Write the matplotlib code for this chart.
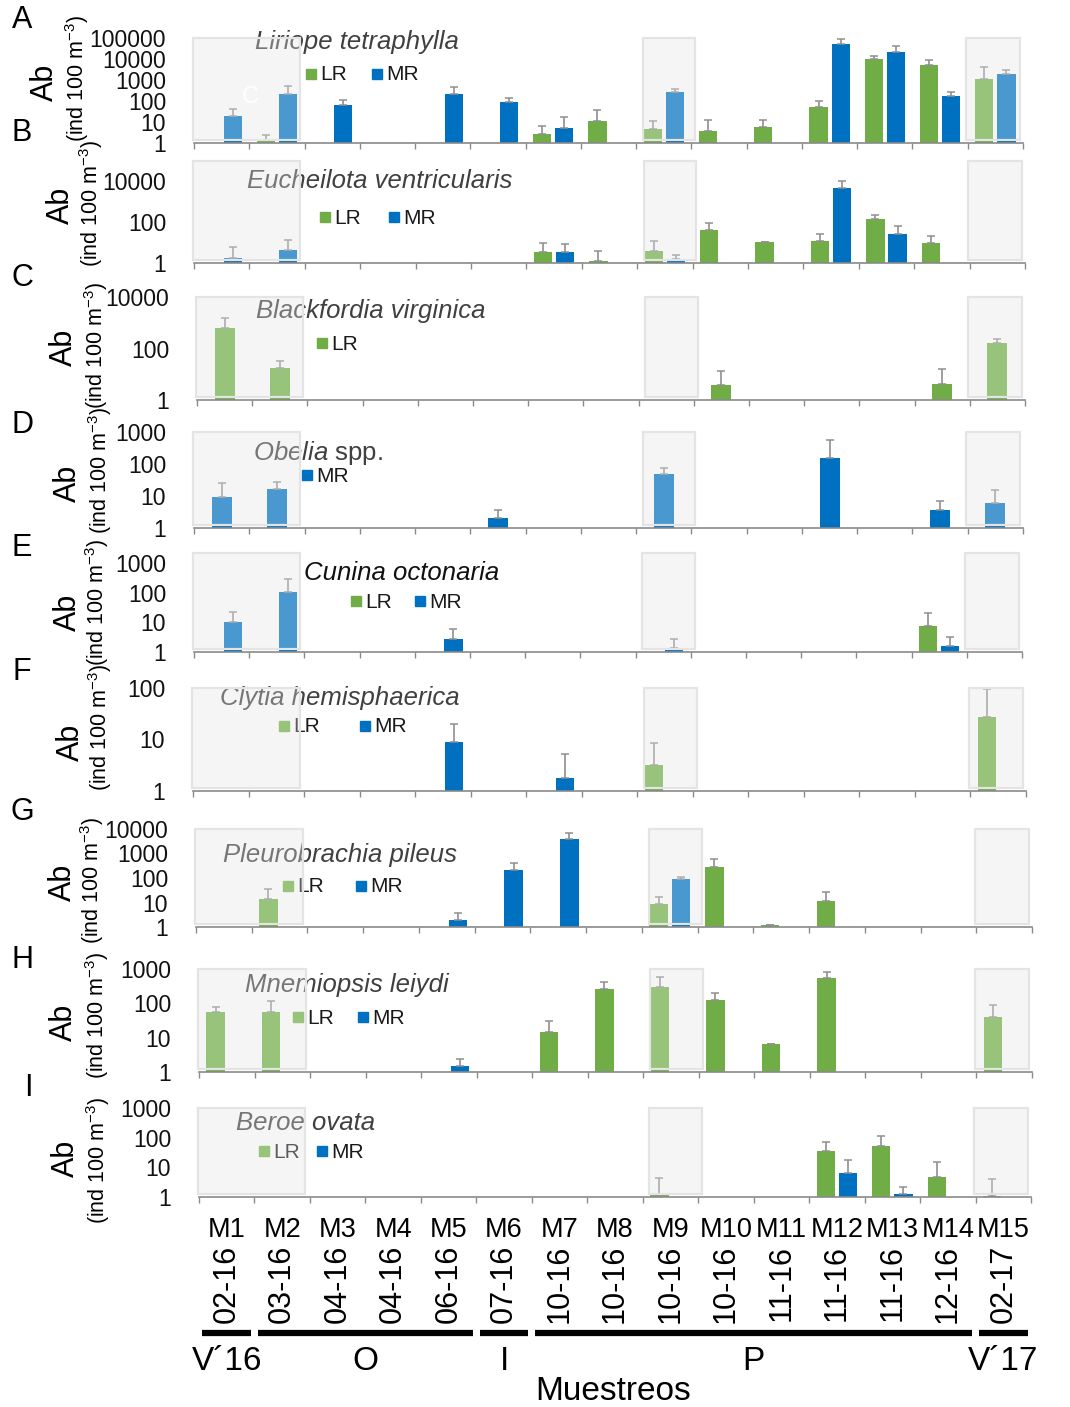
import numpy as np
import matplotlib
matplotlib.use('Agg')
import matplotlib.pyplot as plt
from matplotlib.patches import Rectangle
from matplotlib.lines import Line2D
import matplotlib.transforms as mtransforms
from matplotlib.ticker import NullLocator

plt.rcParams['font.family'] = ['Liberation Sans', 'DejaVu Sans']
plt.rcParams['mathtext.fontset'] = 'custom'
plt.rcParams['mathtext.rm'] = 'Liberation Sans'
plt.rcParams['mathtext.it'] = 'Liberation Sans:italic'

n = np.nan
# ---------------- data ----------------
samples = [f"M{i}" for i in range(1, 16)]
dates = ["02-16", "03-16", "04-16", "04-16", "06-16", "07-16", "10-16", "10-16",
         "10-16", "10-16", "11-16", "11-16", "11-16", "12-16", "02-17"]
seasons = ["V´16", "O", "I", "P", "V´17"]
season_first = [0, 1, 5, 6, 14]
season_last = [0, 4, 5, 13, 14]
shaded_first = [0, 8, 14]
shaded_last = [1, 8, 14]

liriope_LR = [n, 1.35, n, n, n, n, 2.7, 10.8, 4.5, 3.6, 5.6, 50, 10300, 5000, 1150]
liriope_LR_sd = [n, 1.0, n, n, n, n, 3.5, 25, 7, 9.4, 7.4, 50, 4100, 4000, 3050]
liriope_MR = [19, 210, 63, n, 224, 90, 5.2, n, 277, n, n, 50000, 21600, 167, 2000]
liriope_MR_sd = [24, 290, 45, n, 236, 50, 12, n, 108, n, n, 40000, 21400, 110, 1100]

eucheilota_LR = [n, n, n, n, n, n, 3.4, 1.2, 3.7, 42, 10.8, 12.5, 140, 10, n]
eucheilota_LR_sd = [n, n, n, n, n, n, 5.9, 2.8, 8.3, 51, 0.3, 13.5, 93, 11, n]
eucheilota_MR = [1.7, 4.3, n, n, n, n, 3.4, n, 1.5, n, n, 4600, 26, n, n]
eucheilota_MR_sd = [4.3, 9.7, n, n, n, n, 5.6, n, 1.1, n, n, 6400, 37, n, n]

blackfordia_LR = [650, 17, n, n, n, n, n, n, n, 3.8, n, n, n, 4.3, 160]
blackfordia_LR_sd = [930, 17, n, n, n, n, n, n, n, 9.2, n, n, n, 11.3, 74]

obelia_MR = [9.5, 16, n, n, n, 2.0, n, n, 49, n, n, 158, n, 3.7, 5.9]
obelia_MR_sd = [15.5, 11, n, n, n, 1.7, n, n, 25, n, n, 400, n, 3.3, 9]

cunina_LR = [n, n, n, n, n, n, n, n, n, n, n, n, n, 7.7, n]
cunina_LR_sd = [n, n, n, n, n, n, n, n, n, n, n, n, n, 12.3, n]
cunina_MR = [10.5, 107, n, n, 2.7, n, n, n, 1.4, n, n, n, n, 1.6, n]
cunina_MR_sd = [12.5, 173, n, n, 3.3, n, n, n, 1.3, n, n, n, n, 1.7, n]

clytia_LR = [n, n, n, n, n, n, n, n, 3.2, n, n, n, n, n, 27.5]
clytia_LR_sd = [n, n, n, n, n, n, n, n, 5.5, n, n, n, n, n, 70]
clytia_MR = [n, n, n, n, 9.0, n, 1.8, n, n, n, n, n, n, n, n]
clytia_MR_sd = [n, n, n, n, 11, n, 3.4, n, n, n, n, n, n, n, n]

pleuro_LR = [n, 14, n, n, n, n, n, n, 8.5, 275, 1.2, 12, n, n, n]
pleuro_LR_sd = [n, 23, n, n, n, n, n, n, 8.5, 325, 0, 15, n, n, n]
pleuro_MR = [n, n, n, n, 2.0, 220, 4000, n, 87, n, n, n, n, n, n]
pleuro_MR_sd = [n, n, n, n, 1.6, 180, 2700, n, 28, n, n, n, n, n, n]

mnemiopsis_LR = [56, 57, n, n, n, n, 15, 263, 295, 125, 6.4, 535, n, n, 40]
mnemiopsis_LR_sd = [24, 60, n, n, n, n, 16, 157, 295, 75, 0.2, 265, n, n, 48]
mnemiopsis_MR = [n, n, n, n, 1.46, n, n, n, n, n, n, n, n, n, n]
mnemiopsis_MR_sd = [n, n, n, n, 1.0, n, n, n, n, n, n, n, n, n, n]

beroe_LR = [n, n, n, n, n, n, n, n, 1.2, n, n, 35, 53, 4.7, 1.1]
beroe_LR_sd = [n, n, n, n, n, n, n, n, 3.1, n, n, 37, 59, 11, 2.8]
beroe_MR = [n, n, n, n, n, n, n, n, n, n, n, 6.6, 1.25, n, n]
beroe_MR_sd = [n, n, n, n, n, n, n, n, n, n, n, 11.4, 0.85, n, n]

titles = ["Liriope tetraphylla", "Eucheilota ventricularis", "Blackfordia virginica",
          "$\\mathit{Obelia}$ spp.", "Cunina octonaria", "Clytia hemisphaerica",
          "Pleurobrachia pileus", "Mnemiopsis leiydi", "Beroe ovata"]
panel_letters = ["A", "B", "C", "D", "E", "F", "G", "H", "I"]
yticks_list = [[1, 10, 100, 1000, 10000, 100000], [1, 100, 10000], [1, 100, 10000],
               [1, 10, 100, 1000], [1, 10, 100, 1000], [1, 10, 100],
               [1, 10, 100, 1000, 10000], [1, 10, 100, 1000], [1, 10, 100, 1000]]

series = [
    [("LR", liriope_LR, liriope_LR_sd), ("MR", liriope_MR, liriope_MR_sd)],
    [("LR", eucheilota_LR, eucheilota_LR_sd), ("MR", eucheilota_MR, eucheilota_MR_sd)],
    [("LR", blackfordia_LR, blackfordia_LR_sd)],
    [("MR", obelia_MR, obelia_MR_sd)],
    [("LR", cunina_LR, cunina_LR_sd), ("MR", cunina_MR, cunina_MR_sd)],
    [("LR", clytia_LR, clytia_LR_sd), ("MR", clytia_MR, clytia_MR_sd)],
    [("LR", pleuro_LR, pleuro_LR_sd), ("MR", pleuro_MR, pleuro_MR_sd)],
    [("LR", mnemiopsis_LR, mnemiopsis_LR_sd), ("MR", mnemiopsis_MR, mnemiopsis_MR_sd)],
    [("LR", beroe_LR, beroe_LR_sd), ("MR", beroe_MR, beroe_MR_sd)],
]

# ---------------- layout (pixels) ----------------
W, H = 1070, 1407
colors = {"LR": "#70AD47", "MR": "#0070C0"}
# left, right, top, bottom, ymax
axes_px = [(194, 1023, 38, 143, 1e5), (194, 1025, 161, 263, 1e5), (197, 1025, 297, 400, 1e4),
           (194, 1023, 432, 528, 1e3), (194, 1022, 553, 652, 10 ** 3.33), (193, 1026, 688, 791, 100),
           (196, 1032, 829, 927, 1e4), (199, 1032, 969, 1072, 1e3), (199, 1031, 1108, 1197, 1e3)]
title_px = [(357, 42), (380, 181), (371, 311), (318, 453), (402, 573), (340, 698),
            (340, 855), (347, 985), (306, 1123)]
title_col = ["#404040"] * 9
title_col[4] = "#111111"
legend_px = [[(311, 74), (377, 74)], [(325, 217), (394, 217)], [(322, 343)], [(307, 475)],
             [(356, 601), (420, 601)], [(284, 726), (365, 726)], [(288, 886), (361, 886)],
             [(298, 1017), (363, 1017)], [(264, 1151), (322, 1151)]]
letter_px = [(22, 20), (22, 133), (22, 278), (22, 425), (22, 548), (22, 672), (22, 812),
             (22, 960), (28, 1088)]
ab_px = [(45, 82), (61, 205), (64, 347), (68, 483), (68, 612), (71, 742), (63, 882),
         (64, 1022), (66, 1158)]
ind_px = [(77, 78), (91, 203), (96, 345), (100, 470), (97, 602), (100, 727), (92, 880),
          (97, 1015), (98, 1160)]
shade_x0 = {0: -0.52, 8: 7.62, 14: 13.47}
shade_x1 = {1: 1.42, 8: 8.57, 14: 14.45}

fig = plt.figure(figsize=(W / 100, H / 100), dpi=100)
pixT = mtransforms.Affine2D().scale(1 / W, -1 / H).translate(0, 1) + fig.transFigure

axes = []
for i in range(9):
    l, r, t, b, ymax = axes_px[i]
    ax = fig.add_axes([l / W, 1 - b / H, (r - l) / W, (b - t) / H])
    axes.append(ax)
    ax.set_yscale('log', nonpositive='clip')
    x = np.arange(len(samples))
    sers = series[i]
    if len(sers) == 2:
        offs, width = [-0.2, 0.2], 0.33
    else:
        offs, width = [0.0], 0.36
    for (name, vals, sds), off in zip(sers, offs):
        v = np.array(vals, dtype=float)
        s = np.array(sds, dtype=float)
        m = ~np.isnan(v)
        ax.bar(x[m] + off, v[m], width=width, color=colors[name], zorder=2, linewidth=0)
        ax.errorbar(x[m] + off, v[m], yerr=[np.zeros(m.sum()), np.nan_to_num(s[m])],
                    fmt='none', ecolor='#8f8f8f', elinewidth=1.2, capsize=3.2,
                    capthick=1.1, zorder=2.5)
    ax.set_xlim(-0.5, len(samples) - 0.5)
    ax.set_ylim(1, ymax)
    ax.set_yticks(yticks_list[i])
    ax.set_yticklabels([str(int(v)) for v in yticks_list[i]])
    ax.yaxis.set_minor_locator(NullLocator())
    ax.tick_params(axis='y', length=0, pad=20, labelsize=16.5, labelcolor='#111111')
    ax.set_xticks(np.arange(-0.5, len(samples), 1))
    ax.set_xticklabels([])
    ax.xaxis.set_minor_locator(NullLocator())
    ax.tick_params(axis='x', direction='out', length=4, width=1, color='#8a8a8a')
    for sp in ['top', 'right', 'left']:
        ax.spines[sp].set_visible(False)
    ax.spines['bottom'].set_color('#8a8a8a')
    ax.spines['bottom'].set_linewidth(1.2)
    ax.patch.set_alpha(0)

    bt = mtransforms.blended_transform_factory(ax.transData, ax.transAxes)
    for f0, f1 in zip(shaded_first, shaded_last):
        x0, x1 = shade_x0[f0], shade_x1[f1]
        ax.add_patch(Rectangle((x0, 0.03), x1 - x0, 0.97, transform=bt, facecolor='#f5f5f5',
                               edgecolor='none', zorder=0.5))
        ax.add_patch(Rectangle((x0, 0.03), x1 - x0, 0.97, transform=bt, facecolor='#f6f6f6',
                               alpha=0.3, edgecolor='none', zorder=5))
        ax.add_patch(Rectangle((x0, 0.03), x1 - x0, 0.97, transform=bt, fill=False,
                               edgecolor='#e4e4e4', linewidth=1.6, zorder=5.1, clip_on=False))

    # title
    ax.text(title_px[i][0], title_px[i][1], titles[i], transform=pixT, ha='center', va='center',
            fontsize=18.5, style='italic' if i != 3 else 'normal', color=title_col[i],
            zorder=3, clip_on=False)
    # legend
    for (name, _, _), (lx, ly) in zip(sers, legend_px[i]):
        ax.plot([lx], [ly], marker='s', ms=7.5, color=colors[name], linestyle='none',
                transform=pixT, clip_on=False, zorder=3)
        ax.text(lx + 9, ly + 1, name, transform=pixT, ha='left', va='center', fontsize=15,
                color='#1a1a1a', zorder=3, clip_on=False)

    fig.text(letter_px[i][0] / W, 1 - letter_px[i][1] / H, panel_letters[i], fontsize=22,
             ha='center', va='center')
    fig.text(ab_px[i][0] / W, 1 - ab_px[i][1] / H, "Ab", fontsize=22, rotation=90,
             ha='center', va='center')
    fig.text(ind_px[i][0] / W, 1 - ind_px[i][1] / H, "(ind 100 m$^{-3}$)", fontsize=15.5,
             rotation=90, ha='center', va='center')

# white artefact letter in panel A
axes[0].text(250, 97, "C", transform=pixT, color='white', fontsize=17, ha='center',
             va='center', zorder=6)

# ---------------- bottom labels ----------------
axI = axes[-1]
bx = mtransforms.blended_transform_factory(axI.transData, pixT)
for k, (s, d) in enumerate(zip(samples, dates)):
    fig.text(k, 1230, s, transform=bx, ha='center', va='center', fontsize=19.5)
    fig.text(k, 1245, d, transform=bx, ha='center', va='top', fontsize=22, rotation=90)

for name, a, b in zip(seasons, season_first, season_last):
    fig.add_artist(Line2D([a - 0.5 + 0.06, b + 0.5 - 0.06], [1333, 1333], transform=bx,
                          color='black', linewidth=4.5, solid_capstyle='butt'))
    fig.text((a + b) / 2, 1362, name, transform=bx, ha='center', va='center', fontsize=24)

fig.text(613 / W, 1 - 1392 / H, "Muestreos", ha='center', va='center', fontsize=24)

fig.savefig("out.png", dpi=100)
